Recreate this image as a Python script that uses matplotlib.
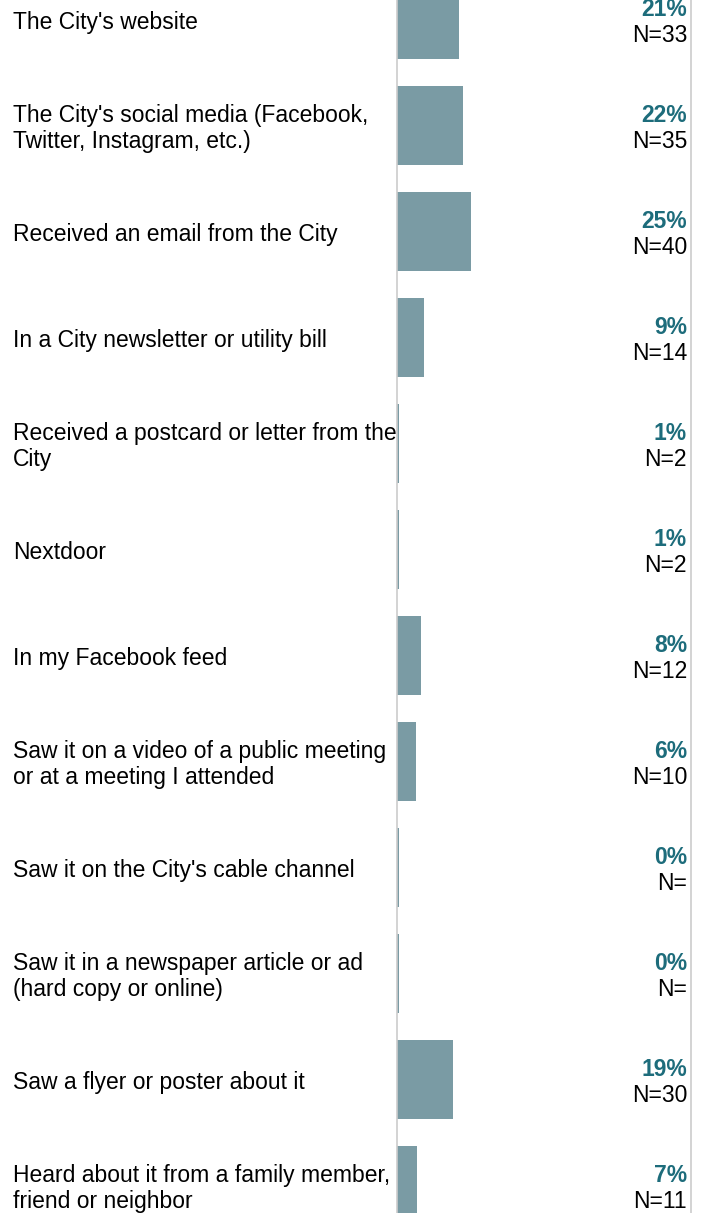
import matplotlib
matplotlib.use("Agg")
import matplotlib.pyplot as plt

plt.rcParams['font.family'] = ['Liberation Sans', 'DejaVu Sans']

labels = [
    "The City's website",
    "The City's social media (Facebook,\nTwitter, Instagram, etc.)",
    "Received an email from the City",
    "In a City newsletter or utility bill",
    "Received a postcard or letter from the\nCity",
    "Nextdoor",
    "In my Facebook feed",
    "Saw it on a video of a public meeting\nor at a meeting I attended",
    "Saw it on the City's cable channel",
    "Saw it in a newspaper article or ad\n(hard copy or online)",
    "Saw a flyer or poster about it",
    "Heard about it from a family member,\nfriend or neighbor",
]
# bar lengths (percent)
bar_values = [21.0, 22.3, 25.3, 9.1, 0.8, 0.8, 8.0, 6.5, 0.6, 0.6, 19.1, 6.9]
pct_labels = ["21%", "22%", "25%", "9%", "1%", "1%", "8%", "6%", "0%", "0%", "19%", "7%"]
n_labels = ["N=33", "N=35", "N=40", "N=14", "N=2", "N=2", "N=12", "N=10",
            "N=", "N=", "N=30", "N=11"]

W, H = 706, 1213
fig = plt.figure(figsize=(W / 100, H / 100), dpi=100)
ax = fig.add_axes([397 / W, 0, (691 - 397) / W, 1])

ypos = list(range(len(labels)))
ax.barh(ypos, bar_values, height=0.75, color="#7a9ba4", zorder=2)

ax.set_xlim(0, 100)
ax.set_ylim((H - 19.5) / 106, -19.5 / 106)
ax.set_xticks([])
ax.set_yticks([])
for side in ["top", "bottom"]:
    ax.spines[side].set_visible(False)
for side in ["left", "right"]:
    ax.spines[side].set_color("#cccccc")
    ax.spines[side].set_linewidth(1.2)

fs = 16.5
for i, lab in enumerate(labels):
    yc = 19.5 + 106 * i
    ax.text(13 / W, 1 - (yc + 3) / H, lab, transform=fig.transFigure,
            ha="left", va="center", fontsize=fs, color="black", linespacing=1.18)
    ax.text(687 / W, 1 - (yc - 10) / H, pct_labels[i],
            transform=fig.transFigure, ha="right", va="center",
            fontsize=fs, fontweight="bold", color="#1d6c7b")
    ax.text(687 / W, 1 - (yc + 16) / H, n_labels[i],
            transform=fig.transFigure, ha="right", va="center",
            fontsize=fs, color="black")

fig.savefig("out.png", dpi=100)
